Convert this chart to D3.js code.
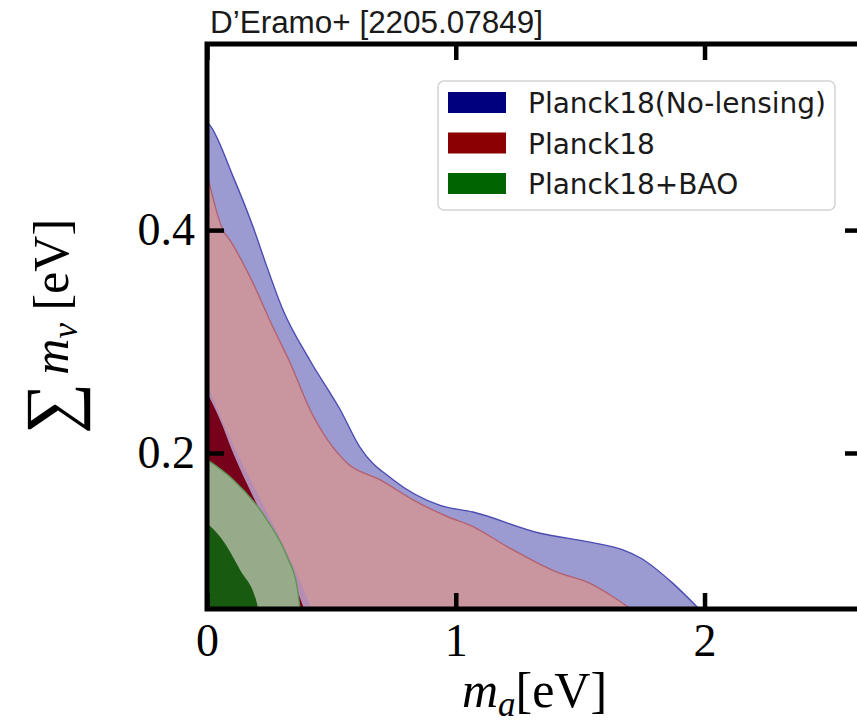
<!DOCTYPE html>
<html>
<head>
<meta charset="utf-8">
<script src="https://cdn.jsdelivr.net/npm/d3@7"></script>
<style>
  body { margin: 0; background: #fff; }
  svg { display: block; }
</style>
</head>
<body>
<svg id="chart" width="857" height="724"></svg>
<script>
// contour edges: [m_a (eV), sum m_nu (eV)]
const blue2Edge = [[0, 0.497], [0.012, 0.494], [0.105, 0.448], [0.185, 0.403], [0.241, 0.367],
  [0.306, 0.328], [0.414, 0.283], [0.535, 0.239], [0.615, 0.205], [0.748, 0.176], [0.937, 0.153],
  [1.069, 0.147], [1.339, 0.128], [1.540, 0.120], [1.672, 0.113], [1.741, 0.106], [1.873, 0.083], [1.978, 0.060]];
const red2Edge = [[0, 0.451], [0.064, 0.400], [0.092, 0.391], [0.173, 0.358], [0.265, 0.313],
  [0.334, 0.281], [0.414, 0.239], [0.563, 0.191], [0.695, 0.176], [0.828, 0.158], [0.965, 0.143],
  [1.069, 0.134], [1.206, 0.116], [1.407, 0.093], [1.540, 0.083], [1.632, 0.071], [1.704, 0.060]];
const blue1Edge = [[0, 0.262], [0.11, 0.205], [0.20, 0.165], [0.29, 0.125], [0.36, 0.092], [0.42, 0.060]];
const red1Edge = [[0, 0.254], [0.052, 0.230], [0.105, 0.200], [0.185, 0.161], [0.265, 0.125],
  [0.334, 0.092], [0.382, 0.065], [0.390, 0.060]];
const green2Edge = [[0, 0.194], [0.105, 0.176], [0.241, 0.140], [0.322, 0.107], [0.362, 0.080], [0.374, 0.060]];
const green1Edge = [[0, 0.137], [0.052, 0.125], [0.133, 0.095], [0.201, 0.065], [0.205, 0.060]];

const xTicks = [0, 1, 2];
const yTicks = [0.2, 0.4];
const legendLabels = ['Planck18(No-lensing)', 'Planck18', 'Planck18+BAO'];
const legendColors = ['#00007f', '#8b0000', '#006400'];
const titleText = 'D\u2019Eramo+ [2205.07849]';

const svg = d3.select('#chart');
const frame = { left: 207, right: 862, top: 44, bottom: 609 };
const yMin = 0.06;

const mapX = d3.scaleLinear().domain([0, 2.633]).range([frame.left, frame.right]);
const mapY = d3.scaleLinear().domain([yMin, 0.567]).range([frame.bottom, frame.top]);

svg.append('clipPath').attr('id', 'plotClip')
  .append('rect')
  .attr('x', frame.left).attr('y', frame.top)
  .attr('width', frame.right - frame.left).attr('height', frame.bottom - frame.top);

const area = d3.area()
  .x(d => mapX(d[0]))
  .y0(mapY(yMin))
  .y1(d => mapY(d[1]))
  .curve(d3.curveMonotoneX);
const edge = d3.line()
  .x(d => mapX(d[0]))
  .y(d => mapY(d[1]))
  .curve(d3.curveMonotoneX);

const g = svg.append('g').attr('clip-path', 'url(#plotClip)');

//---- contours, back to front
const layers = [
  { data: blue2Edge, fill: '#9b9bd1', line: '#4b4bb3' },
  { data: red2Edge, fill: '#c9959e', line: '#b5616f' },
  { data: blue1Edge, fill: '#b58cb4', line: null },
  { data: red1Edge, fill: '#77001a', line: null },
  { data: green2Edge, fill: '#97ab8b', line: '#5e9550' },
  { data: green1Edge, fill: '#175a10', line: null }
];
layers.forEach(l => {
  g.append('path').attr('d', area(l.data)).attr('fill', l.fill);
  if (l.line) {
    g.append('path').attr('d', edge(l.data))
      .attr('fill', 'none').attr('stroke', l.line).attr('stroke-width', 1.4);
  }
});

//---- axes (ticks point inward)
const tickFont = 'Liberation Serif, Times New Roman, serif';

const xAxis = svg.append('g')
  .attr('transform', `translate(0, ${frame.bottom})`)
  .call(d3.axisBottom(mapX).tickValues(xTicks).tickSizeInner(-16).tickSizeOuter(0).tickPadding(14).tickFormat(d3.format('d')));
const yAxis = svg.append('g')
  .attr('transform', `translate(${frame.left}, 0)`)
  .call(d3.axisLeft(mapY).tickValues(yTicks).tickSizeInner(-17).tickSizeOuter(0).tickPadding(12).tickFormat(d3.format('.1f')));
const topAxis = svg.append('g')
  .attr('transform', `translate(0, ${frame.top})`)
  .call(d3.axisTop(mapX).tickValues(xTicks).tickSizeInner(-16).tickSizeOuter(0).tickFormat(''));
const rightAxis = svg.append('g')
  .attr('transform', `translate(${frame.right}, 0)`)
  .call(d3.axisRight(mapY).tickValues(yTicks).tickSizeInner(-17).tickSizeOuter(0).tickFormat(''));

[xAxis, yAxis, topAxis, rightAxis].forEach(a => {
  a.select('.domain').remove();
  a.selectAll('.tick line').attr('stroke', '#000').attr('stroke-width', 4.5);
  a.selectAll('.tick text').attr('fill', '#000')
    .style('font-family', tickFont).style('font-size', '46px');
});

svg.append('rect')
  .attr('x', frame.left).attr('y', frame.top)
  .attr('width', frame.right - frame.left).attr('height', frame.bottom - frame.top)
  .attr('fill', 'none').attr('stroke', '#000').attr('stroke-width', 5);

//---- axis labels
const xl = svg.append('text')
  .attr('x', (frame.left + frame.right) / 2).attr('y', 707)
  .attr('text-anchor', 'middle')
  .style('font-family', tickFont).style('font-size', '50px');
xl.append('tspan').attr('font-style', 'italic').text('m');
xl.append('tspan').attr('font-style', 'italic').attr('font-size', '35px').attr('dy', 9).text('a');
xl.append('tspan').attr('dy', -9).text('[eV]');

const yl = svg.append('text')
  .attr('transform', `translate(68, ${(frame.top + frame.bottom) / 2}) rotate(-90)`)
  .attr('text-anchor', 'middle')
  .style('font-family', tickFont).style('font-size', '50px');
yl.append('tspan').attr('font-size', '72px').attr('dy', 7).text('\u2211');
yl.append('tspan').attr('font-style', 'italic').attr('dy', -7).attr('dx', 8).text('m');
yl.append('tspan').attr('font-style', 'italic').attr('font-size', '35px').attr('dy', 9).text('\u03bd');
yl.append('tspan').attr('dy', -9).text(' [eV]');

//---- title
svg.append('text')
  .attr('x', 210).attr('y', 33)
  .attr('textLength', 333).attr('lengthAdjust', 'spacingAndGlyphs')
  .style('font-family', 'Liberation Sans Narrow, Liberation Sans, Arial, sans-serif')
  .style('font-size', '31px').attr('fill', '#1a1a1a')
  .text(titleText);

//---- legend
const legend = svg.append('g');
legend.append('rect')
  .attr('x', 438).attr('y', 81).attr('width', 397).attr('height', 129).attr('rx', 6)
  .attr('fill', '#fff').attr('fill-opacity', 0.9)
  .attr('stroke', '#d4d4d4').attr('stroke-width', 1.5);
const rows = legend.selectAll('g.row').data(legendLabels).join('g')
  .attr('class', 'row')
  .attr('transform', (d, i) => `translate(448, ${92 + i * 40.5})`);
rows.append('rect')
  .attr('width', 58).attr('height', 21)
  .attr('fill', (d, i) => legendColors[i]);
rows.append('text')
  .attr('x', 80).attr('y', 21)
  .style('font-family', 'DejaVu Sans, sans-serif').style('font-size', '28px')
  .attr('fill', '#1a1a1a')
  .text(d => d);
</script>
</body>
</html>
